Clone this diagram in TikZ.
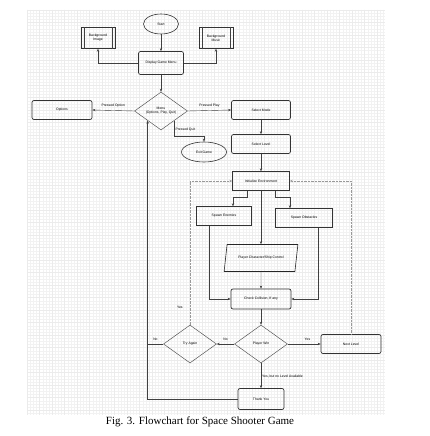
\documentclass[tikz,border=0pt]{standalone}
\usepackage{fontspec}
\setmainfont{Liberation Serif}
\setsansfont{Liberation Sans}
\usetikzlibrary{shapes.geometric,arrows.meta,calc}

\tikzset{
  txt/.style={font=\sffamily\fontsize{3.4}{4}\selectfont},
  box/.style={txt, draw=black!80, line width=0.45pt, minimum width=#1,
    minimum height=19pt, inner sep=0pt, align=center},
  box/.default=57pt,
  rbox/.style={box=#1, rounded corners=2pt, line width=0.7pt},
  rbox/.default=60pt,
  proc/.style={box=34pt, minimum height=21pt},
  oval/.style={txt, ellipse, draw=black!80, line width=0.6pt, inner sep=0pt},
  choice/.style={txt, diamond, draw=black!70, line width=0.45pt, inner sep=0pt,
    minimum width=53pt, minimum height=38pt, align=center},
  io/.style={txt, trapezium, trapezium left angle=58, trapezium right angle=122,
    trapezium stretches=true, draw=black!85, line width=0.6pt, inner sep=0pt,
    minimum width=74pt, minimum height=27pt},
  line/.style={draw=black!75, line width=0.4pt},
  arr/.style={line, -{Stealth[length=3pt,width=2.4pt]}},
  dotarr/.style={arr, densely dotted, draw=black!40, line width=0.7pt},
  lbl/.style={txt, inner sep=1pt},
  minor/.style={draw=black!5, line width=0.25pt},
  major/.style={draw=black!8, line width=0.35pt}
}

\begin{document}
\begin{tikzpicture}[x=1pt, y=-1pt]
  \useasboundingbox (0,0) rectangle (430,436);
  \fill[white] (0,0) rectangle (430,436);

  % grid of the drawing canvas
  \foreach \x in {27,30.125,...,385} \draw[minor] (\x,10) -- (\x,415);
  \foreach \y in {10,13.125,...,415} \draw[minor] (27,\y) -- (385,\y);
  \foreach \x in {27,39.5,...,385} \draw[major] (\x,10) -- (\x,415);
  \foreach \y in {10,22.5,...,415} \draw[major] (27,\y) -- (385,\y);

  % nodes
  \node[oval, minimum width=35pt, minimum height=20pt] (start) at (161,24) {Start};
  \node[proc] (bgimg) at (98,38) {Background\\Image};
  \node[proc] (bgmus) at (216,38) {Background\\Music};
  \foreach \n in {bgimg,bgmus} {
    \draw[line] ([xshift=3pt]\n.north west) -- ([xshift=3pt]\n.south west);
    \draw[line] ([xshift=-3pt]\n.north east) -- ([xshift=-3pt]\n.south east);
  }
  \node[rbox=45pt, minimum height=23pt] (dgm) at (161,63) {Display Game Menu};
  \node[choice] (menu) at (161,111) {Menu\\(Options, Play, Quit)};
  \node[rbox=60pt] (options) at (62,110) {Options};
  \node[rbox=59pt] (mode) at (261,110) {Select Mode};
  \node[rbox=59pt] (level) at (261,144) {Select Level};
  \node[oval, minimum width=45pt, minimum height=20pt] (exit) at (204,152) {Exit Game};
  \node[box=57pt] (init) at (261,181) {Initialize Environment};
  \node[box=55pt] (enemies) at (224,216) {Spawn Enemies};
  \node[box=57pt] (obstacles) at (304,218) {Spawn Obstacles};
  \node[io] (ctrl) at (261,258) {Player Character/Ship Control};
  \node[rbox=60pt, minimum height=20pt] (check) at (261,299) {Check Collision, If any};
  \node[choice] (win) at (261,344) {Player Win};
  \node[choice] (retry) at (190,344) {Try Again};
  \node[rbox=60pt] (next) at (351,344) {Next Level};
  \node[rbox=46pt, minimum height=21pt] (thanks) at (261,399) {Thank You};

  % connectors
  \draw[arr] (start) -- (dgm);
  \draw[arr] (dgm.west) -| (bgimg.south);
  \draw[arr] (dgm.east) -| (bgmus.south);
  \draw[arr] (dgm) -- (menu);
  \draw[arr] (menu.west) -- node[lbl, above=2pt] {Pressed Option} (options.east);
  \draw[arr] (menu.east) -- node[lbl, above=2pt] {Pressed Play} (mode.west);
  \coordinate (quit) at ($(menu.east)!0.5!(menu.south)$);
  \draw[arr] (quit) |- node[lbl, right, pos=0.3] {Pressed Quit}
    ([yshift=6pt]exit.north) -- (exit.north);
  \draw[arr] (mode) -- (level);
  \draw[arr] (level) -- (init);
  \draw[arr] ([xshift=-14pt]init.south) -- ++(0,6) -| ([xshift=9pt]enemies.north);
  \draw[arr] ([xshift=14pt]init.south) -- ++(0,6) -| ([xshift=-14pt]obstacles.north);
  \draw[arr] (init) -- (ctrl);
  \draw[arr] (ctrl) -- (check);
  \draw[arr] ([xshift=-15pt]enemies.south) |- (check.west);
  \draw[arr] ([xshift=14pt]obstacles.south) |- (check.east);
  \draw[arr] (check) -- (win);
  \draw[arr] (win) -- node[lbl, above=2pt] {No} (retry);
  \draw[arr] (win) -- node[lbl, above=2pt, pos=0.6] {Yes} (next);
  \draw[arr] (win) -- node[lbl, right, pos=0.55] {Yes, but no Level Available} (thanks);
  \draw[dotarr] (retry.north) |- node[lbl, left=6pt, pos=0.06] {Yes} (init.west);
  \draw[dotarr] (next.north) |- (init.east);
  \coordinate (up) at ($(menu.west)!0.5!(menu.south)$);
  \draw[arr] (thanks.west) -| (up);
  \draw[line] (retry.west) -- node[lbl, above=2pt] {No} (retry.west -| up);

  \node[font=\fontsize{11}{13}\selectfont] (caption) at (200,422)
    {Fig. 3. Flowchart for Space Shooter Game};
\end{tikzpicture}
\end{document}
